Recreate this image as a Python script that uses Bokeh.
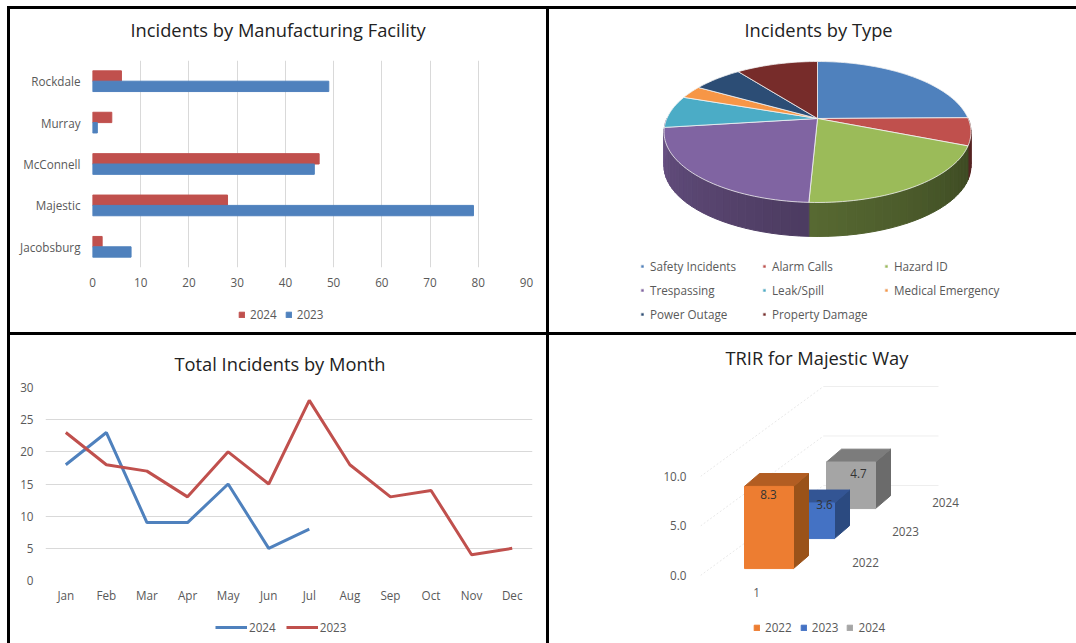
import math
from bokeh.plotting import figure
from bokeh.layouts import column, row
from bokeh.models import (FactorRange, Range1d, Legend, LegendItem, FixedTicker, Spacer, PrintfTickFormatter)
from bokeh.core.properties import value
from bokeh.transform import dodge
from bokeh.embed import file_html
from bokeh.resources import INLINE

FONT = "Open Sans"
TXT = "#595959"
GRID = "#D9D9D9"
TICK = "11.7px"

# ---- data
facilities = ["Jacobsburg", "Majestic", "McConnell", "Murray", "Rockdale"]
fac_2024 = [2, 28, 47, 4, 6]
fac_2023 = [8, 79, 46, 1, 49]

types = ["Safety Incidents", "Alarm Calls", "Hazard ID", "Trespassing",
         "Leak/Spill", "Medical Emergency", "Power Outage", "Property Damage"]
type_counts = [67, 17, 53, 60, 20, 8, 17, 28]
type_colors = ["#4F81BD", "#C0504D", "#9BBB59", "#8064A2",
               "#4BACC6", "#F79646", "#2C4D75", "#772C2A"]

months = ["Jan", "Feb", "Mar", "Apr", "May", "Jun", "Jul", "Aug", "Sep", "Oct", "Nov", "Dec"]
month_2024 = [18, 23, 9, 9, 15, 5, 8]
month_2023 = [23, 18, 17, 13, 20, 15, 28, 18, 13, 14, 4, 5]

trir_years = ["2022", "2023", "2024"]
trir_values = [8.3, 3.6, 4.7]
trir_colors = ["#ED7D31", "#4472C4", "#A5A5A5"]
trir_sides = ["#9A5219", "#2B4A80", "#6B6B6B"]
trir_tops = ["#B25D22", "#335594", "#7C7C7C"]


def base(**kw):
    p = figure(output_backend="svg", toolbar_location=None, background_fill_color="white",
               border_fill_color="white", outline_line_color=None, frame_align=False, **kw)
    p.margin = 0
    return p


def set_title(p, text, left, standoff):
    p.title.text = text
    p.title.text_font = FONT
    p.title.text_font_size = "18.3px"
    p.title.text_font_style = "normal"
    p.title.text_color = "#222222"
    p.title.align = "left"
    p.title.vertical_align = "top"
    p.title.offset = left
    p.title.standoff = standoff


def style_axes(p):
    for ax in list(p.xaxis) + list(p.yaxis):
        ax.axis_line_color = None
        ax.major_tick_line_color = None
        ax.minor_tick_line_color = None
        ax.major_tick_out = 0
        ax.major_tick_in = 0
        ax.minor_tick_out = 0
        ax.major_label_text_font = FONT
        ax.major_label_text_font_size = TICK
        ax.major_label_text_color = TXT


def add_legend(p, items, loc, **kw):
    leg = Legend(items=items, location=loc, orientation="horizontal", border_line_color=None,
                 background_fill_alpha=0, padding=0, margin=0,
                 label_text_font=FONT, label_text_font_size=TICK, label_text_color=TXT, **kw)
    p.add_layout(leg, "center")
    return leg


def strip(width, height, labels, colors, loc, kind="box", **kw):
    """A thin legend band that sits under a chart; its keys lie outside the visible range."""
    s = base(width=width, height=height, min_border=0, x_range=Range1d(0, 1), y_range=Range1d(0, 1))
    s.axis.visible = False
    s.grid.visible = False
    items = []
    for lab, col in zip(labels, colors):
        if kind == "line":
            r = s.line([-3, -2], [-3, -2], color=col, line_width=3)
        else:
            r = s.patch([-3, -2, -2], [-3, -3, -2], color=col)
        items.append(LegendItem(label=lab, renderers=[r]))
    add_legend(s, items, loc, **kw)
    return s


def title_band(width, height, top, text, left, standoff):
    """A band above a chart that only carries the chart's title."""
    t = base(width=width, height=height, min_border=0, min_border_top=top,
             x_range=Range1d(0, 1), y_range=Range1d(0, 1))
    t.axis.visible = False
    t.grid.visible = False
    set_title(t, text, left, standoff)
    return t


# ---- panel 1: bars
t1 = title_band(536, 44, 39, "Incidents by Manufacturing Facility", 120, 10)
p1 = base(width=536, height=247, min_border_left=82, min_border_right=20, min_border_top=7,
          min_border_bottom=33, y_range=FactorRange(*facilities, range_padding=0),
          x_range=Range1d(0, 90))
src_y = dict(f=facilities, a=fac_2024, b=fac_2023)
p1.hbar(y=dodge("f", 0.125, range=p1.y_range), right="a", height=0.25, left=0,
        color="#C0504D", source=src_y)
p1.hbar(y=dodge("f", -0.125, range=p1.y_range), right="b", height=0.25, left=0,
        color="#4F81BD", source=src_y)
style_axes(p1)
p1.xaxis.ticker = FixedTicker(ticks=list(range(0, 100, 10)))
p1.xaxis.major_label_standoff = 10
p1.yaxis.major_label_standoff = 12
p1.xgrid.ticker = FixedTicker(ticks=list(range(0, 100, 10)))
p1.xgrid.grid_line_color = GRID
p1.ygrid.grid_line_color = None
s1 = strip(536, 32, ["2024", "2023"], ["#C0504D", "#4F81BD"], (228, 10),
           glyph_width=7, glyph_height=7, label_standoff=5, spacing=8)

# ---- panel 2: tilted pie, projected through a perspective map
CX_EXT = 153.5
K = 0.1915
RY = 67.9
RX = CX_EXT * math.sqrt(1 - K * K)
DEPTH = 34


def proj(a):
    u, v = math.sin(a), math.cos(a)
    d = 1 + K * v
    return RX * u / d, RY * v / d


p2 = base(width=527, height=323, min_border_left=0, min_border_right=0, min_border_top=41,
          min_border_bottom=0, x_range=Range1d(-268, 259), y_range=Range1d(-214, 68))
set_title(p2, "Incidents by Type", 195, 14)
p2.axis.visible = False
p2.grid.visible = False
total = sum(type_counts)
edges = [0.0]
for c in type_counts:
    edges.append(edges[-1] + c / total * 2 * math.pi)


def mix(hexc, f):
    r, g, b = [int(hexc[i:i + 2], 16) for i in (1, 3, 5)]
    return "#%02x%02x%02x" % (int(r * f), int(g * f), int(b * f))


# side wall, in shaded bands across the visible front half
for i, col in enumerate(type_colors[:4]):
    a0, a1 = edges[i], edges[i + 1]
    lo = max(a0, math.pi / 2)
    hi = 3 * math.pi / 2 if i == 3 else min(a1, 3 * math.pi / 2)
    if hi <= lo:
        continue
    n = max(2, int((hi - lo) / 0.05))
    for j in range(n):
        s0 = lo + (hi - lo) * j / n
        s1_ = lo + (hi - lo) * (j + 1) / n
        P0, P1 = proj(s0), proj(s1_)
        t = j / n
        if i == 3:          # purple: darker toward the front seam
            f = 0.60 + 0.22 * t
        elif i == 2:        # green: darkens toward the right
            f = 0.40 + 0.17 * t
        else:
            f = 0.45
        c = mix(col, f)
        p2.patch([P0[0], P1[0], P1[0], P0[0]], [P0[1], P1[1], P1[1] - DEPTH, P0[1] - DEPTH],
                 fill_color=c, line_color=c, line_width=1)

tops = []
for i, col in enumerate(type_colors):
    a0, a1 = edges[i], edges[i + 1]
    n = max(8, int((a1 - a0) / 0.03))
    pts = [proj(a0 + (a1 - a0) * j / n) for j in range(n + 1)]
    xs = [0] + [q[0] for q in pts]
    ys = [0] + [q[1] for q in pts]
    tops.append(p2.patch(xs, ys, fill_color=col, line_color="#F2F2F2", line_width=0.8))
add_legend(p2, [LegendItem(label=t, renderers=[r]) for t, r in zip(types, tops)], (91, 7),
           ncols=3, glyph_width=4, glyph_height=4, label_standoff=6, spacing=2,
           label_width=110, label_height=22)

# ---- panel 3: lines
t3 = title_band(536, 43, 42, "Total Incidents by Month", 164, 0)
p3 = base(width=536, height=232, min_border_left=35, min_border_right=14, min_border_top=9,
          min_border_bottom=30, x_range=FactorRange(*months, range_padding=0), y_range=Range1d(0, 30))
p3.line(months[:len(month_2024)], month_2024, color="#4F81BD", line_width=3)
p3.line(months, month_2023, color="#C0504D", line_width=3)
style_axes(p3)
p3.yaxis.ticker = FixedTicker(ticks=[0, 5, 10, 15, 20, 25, 30])
p3.xaxis.major_label_standoff = 6
p3.yaxis.major_label_standoff = 12
p3.xgrid.grid_line_color = None
p3.ygrid.grid_line_color = GRID
p3.ygrid.ticker = FixedTicker(ticks=[0, 5, 10, 15, 20, 25, 30])
s3 = strip(536, 33, ["2024", "2023"], ["#4F81BD", "#C0504D"], (205, 8), kind="line",
           glyph_width=32, glyph_height=12, label_standoff=2, spacing=10)

# ---- panel 4: faux-3D columns
p4 = base(width=527, height=275, min_border_left=151, min_border_right=0, min_border_top=40,
          min_border_bottom=10, x_range=Range1d(0, 376), y_range=Range1d(-2.525, 20.2))
set_title(p4, "TRIR for Majestic Way", 25, 7)
style_axes(p4)
p4.xaxis.visible = False
p4.yaxis.ticker = FixedTicker(ticks=[0, 5, 10])
p4.yaxis.formatter = PrintfTickFormatter(format="%.1f")
p4.yaxis.major_label_standoff = 14
p4.grid.visible = False

DX, DY = 41, 3.03      # one depth step
BAR_W = 49
SIDE_X, SIDE_Y = 15, 1.3
X0, Y0 = 44, 0.7
for lvl in (0, 5, 10):
    p4.line([0, 3 * DX], [lvl, lvl + 3 * DY], color="#E8E8E8", line_dash="2 2", line_width=1)
    p4.line([3 * DX, 238], [lvl + 3 * DY, lvl + 3 * DY], color="#EEEEEE", line_width=1)

label_shift = [(24, -0.8), (39, -0.2), (32, -1.2)]
for i in (2, 1, 0):
    x0 = X0 + i * DX
    x1 = x0 + BAR_W
    y0 = Y0 + i * DY
    y1 = y0 + trir_values[i]
    p4.patch([x1, x1 + SIDE_X, x1 + SIDE_X, x1], [y0, y0 + SIDE_Y, y1 + SIDE_Y, y1], color=trir_sides[i])
    p4.patch([x0, x0 + SIDE_X, x1 + SIDE_X, x1], [y1, y1 + SIDE_Y, y1 + SIDE_Y, y1], color=trir_tops[i])
    p4.patch([x0, x1, x1, x0], [y0, y0, y1, y1], color=trir_colors[i])
    sx, sy = label_shift[i]
    p4.text([x0 + sx], [y1 + sy], text=[f"{trir_values[i]:.1f}"], text_align="center",
            text_baseline="middle", text_font=value(FONT), text_font_size=TICK, text_color="#333333")

cat_x = [56, 165, 205, 245]
cat_y = [-1.75, 1.3, 4.4, 7.4]
p4.text(cat_x, cat_y, text=["1"] + trir_years, text_align="center", text_baseline="middle",
        text_font=value(FONT), text_font_size=TICK, text_color=TXT)
s4 = strip(527, 33, trir_years, trir_colors, (204, 8),
           glyph_width=7, glyph_height=7, label_standoff=5, spacing=8)


def bar(w, h):
    return Spacer(width=w, height=h, margin=0, styles={"background": "#000000"})


def gap(w, h):
    return Spacer(width=w, height=h, margin=0)


page = column(
    gap(1076, 6),
    row(gap(7, 637),
        column(bar(1069, 3),
               row(bar(3, 634),
                   column(row(column(t1, p1, s1, spacing=0), bar(3, 323), p2, spacing=0),
                          bar(1066, 3),
                          row(column(t3, p3, s3, spacing=0), bar(3, 308), column(p4, s4, spacing=0), spacing=0),
                          spacing=0),
                   spacing=0),
               spacing=0),
        spacing=0),
    spacing=0)

open("out.html", "w").write(file_html(page, INLINE))
